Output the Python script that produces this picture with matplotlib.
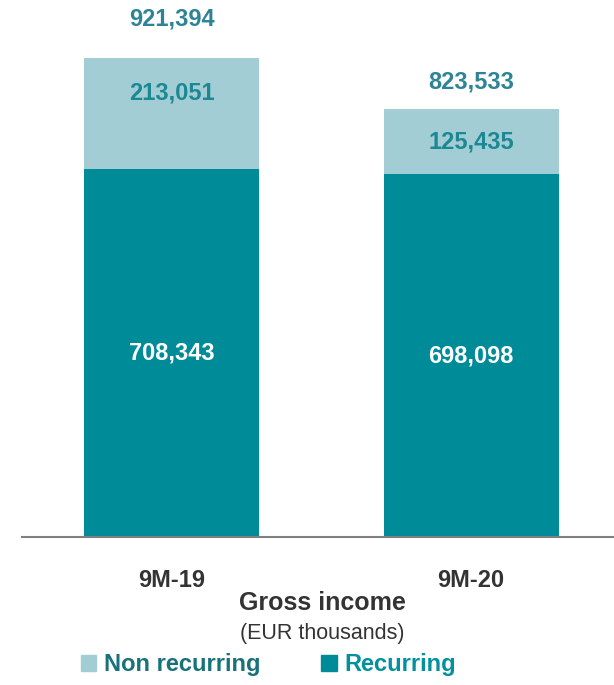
import matplotlib.pyplot as plt
from matplotlib.patches import Patch

periods = ["9M-19", "9M-20"]
recurring = [708343, 698098]
non_recurring = [213051, 125435]
totals = [921394, 823533]

dark = "#008B99"
light = "#A3CDD4"

plt.rcParams['font.family'] = ['Liberation Sans Narrow', 'Liberation Sans', 'DejaVu Sans']

fig = plt.figure(figsize=(6.14, 6.85), dpi=100)
ax = fig.add_axes([22 / 614, 148 / 685, 592 / 614, 537 / 685])

x = [0, 1]
w = 0.584
ax.bar(x, recurring, w, color=dark)
ax.bar(x, non_recurring, w, bottom=recurring, color=light)

# label placement tweaks (pixels) to follow the original layout
top_pad = [39, 27]
mid_shift = [21, 0]

for i in x:
    ax.text(i, recurring[i] / 2, f"{recurring[i]:,}", ha='center', va='center',
            color='white', fontsize=17, fontweight='bold')
    ax.annotate(f"{non_recurring[i]:,}", (i, recurring[i] + non_recurring[i] / 2),
                xytext=(0, mid_shift[i] * 0.72), textcoords='offset points',
                ha='center', va='center', color='#1B8893', fontsize=17,
                fontweight='bold')
    ax.annotate(f"{totals[i]:,}", (i, totals[i]), xytext=(0, top_pad[i] * 0.72),
                textcoords='offset points', ha='center', va='center',
                color='#2E8497', fontsize=17, fontweight='bold')

ax.set_xlim(-0.499, 1.477)
ax.set_ylim(0, 1033700)
ax.set_xticks(x)
ax.set_xticklabels(periods, fontsize=17, fontweight='bold', color='#333333')
ax.tick_params(axis='x', length=0, pad=23)
ax.set_yticks([])
for s in ['top', 'right', 'left']:
    ax.spines[s].set_visible(False)
ax.spines['bottom'].set_color('#7F7F7F')
ax.spines['bottom'].set_linewidth(1.5)

fig.text(0.5255, 1 - 603 / 685, "Gross income", ha='center', va='center',
         fontsize=18, fontweight='bold', color='#333333')
fig.text(0.5255, 1 - 634 / 685, "(EUR thousands)", ha='center', va='center',
         fontsize=15.5, color='#333333')

handles = [Patch(color=light), Patch(color=dark)]
leg = fig.legend(handles, ["Non recurring", "Recurring"], ncol=2, frameon=False,
                 loc='center', bbox_to_anchor=(0.437, 1 - 665 / 685),
                 prop={'size': 17, 'weight': 'bold'}, handlelength=0.65,
                 handleheight=0.65, handletextpad=0.3, columnspacing=2.6)
for t, c in zip(leg.get_texts(), ['#17727A', '#00919E']):
    t.set_color(c)

fig.savefig("out.png", dpi=100)
